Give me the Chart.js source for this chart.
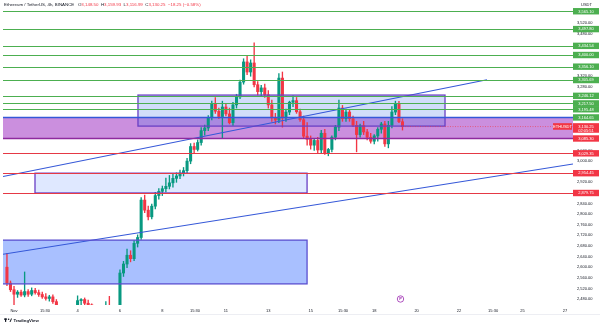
<!DOCTYPE html>
<html>
<head>
<meta charset="utf-8">
<script src="https://cdn.jsdelivr.net/npm/chart.js@4.4.1/dist/chart.umd.min.js"></script>
<style>
  html, body { margin: 0; padding: 0; background: #fff; }
  #wrap { width: 600px; height: 327px; position: relative; }
</style>
</head>
<body>
<div id="wrap"><canvas id="chart"></canvas></div>
<script>
// 4h candles, first one Oct 31 16:00 (x axis counts days from Nov 1 00:00)
const firstCandleDay = -1 / 3;
const candleStepDay = 1 / 6;

const candleOpen = [2600,2540,2515,2498,2506,2495,2508,2498,2512,2504,2497,2488,2482,2488,2470,2438,2432,2442,2426,2438,
  2446,2474,2478,2464,2458,2405,2420,2426,2432,2442,2436,2415,2410,2578,2612,2645,2632,2690,2712,2853,
  2815,2790,2830,2870,2886,2896,2905,2918,2935,2944,2955,2964,3000,3055,3044,3070,3115,3125,3165,3218,
  3188,3168,3204,3178,3145,3212,3242,3298,3374,3336,3370,3288,3262,3276,3250,3212,3163,3155,3313,3163,
  3185,3222,3228,3186,3156,3094,3082,3060,3078,3042,3105,3030,3044,3090,3128,3200,3160,3185,3160,3135,
  3100,3134,3110,3090,3075,3095,3120,3140,3065,3135,3185,3215,3148.50];
const candleHigh = [2652,2548,2528,2512,2514,2582,2516,2522,2520,2514,2506,2500,2494,2496,2478,2452,2448,2450,2445,2452,
  2492,2482,2484,2476,2462,2430,2440,2445,2470,2490,2450,2435,2590,2622,2668,2662,2700,2722,2862,2872,
  2830,2838,2882,2896,2906,2936,2946,2950,2956,2966,2976,3010,3066,3068,3080,3126,3136,3172,3226,3240,
  3200,3226,3216,3200,3222,3252,3306,3386,3396,3382,3446,3300,3286,3290,3266,3230,3180,3330,3336,3196,
  3226,3246,3240,3196,3170,3145,3095,3086,3090,3116,3120,3048,3095,3135,3230,3210,3196,3195,3170,3150,
  3140,3150,3120,3105,3100,3126,3146,3150,3150,3206,3226,3225,3159.93];
const candleLow = [2530,2508,2455,2486,2490,2488,2490,2492,2498,2490,2482,2476,2472,2463,2428,2425,2415,2420,2400,2430,
  2440,2458,2456,2440,2395,2380,2400,2410,2420,2425,2405,2395,2400,2565,2598,2620,2625,2676,2705,2806,
  2778,2782,2820,2856,2870,2884,2895,2902,2920,2934,2944,2955,2990,3032,3038,3060,3098,3115,3155,3180,
  3160,3088,3170,3140,3135,3200,3235,3290,3326,3320,3280,3250,3246,3240,3200,3150,3140,3145,3128,3150,
  3175,3205,3180,3150,3085,3060,3045,3040,3030,3030,3025,3020,3035,3080,3115,3150,3150,3150,3130,3035,
  3090,3100,3080,3068,3065,3075,3105,3055,3050,3125,3175,3145,3116.99];
const candleClose = [2540,2515,2498,2506,2495,2508,2498,2512,2504,2497,2488,2482,2488,2470,2438,2432,2442,2426,2438,2446,
  2474,2478,2464,2458,2405,2420,2426,2432,2442,2436,2415,2410,2578,2612,2645,2632,2690,2712,2853,2815,
  2790,2830,2870,2886,2896,2905,2918,2935,2944,2955,2964,3000,3055,3044,3070,3115,3125,3165,3218,3188,
  3168,3204,3178,3145,3212,3242,3298,3374,3336,3370,3288,3262,3276,3250,3212,3163,3155,3313,3163,3185,
  3222,3228,3186,3156,3094,3082,3060,3078,3042,3105,3030,3044,3090,3128,3200,3160,3185,3160,3135,3100,
  3134,3110,3090,3075,3095,3120,3140,3065,3135,3185,3215,3148.50,3130.25];

// horizontal levels drawn on the chart
const greenLevels = [3565.10, 3497.80, 3434.54, 3400.00, 3356.10, 3305.69, 3246.12, 3217.50, 3195.48, 3164.65];
const redLevels = [3085.30, 3029.35, 2954.45, 2879.75];
const lastPrice = 3130.25;
const countdown = '02:05:51';

// purple zone across the whole chart
const zoneHigh = 3164.65;
const zoneLow = 3085.30;

// rectangles (days / prices)
const boxFrom = [5.85, 0.99, -0.6];
const boxTo = [20.34, 13.83, 13.83];
const boxHigh = [3249, 2954.45, 2702];
const boxLow = [3132, 2879.75, 2537];

// trend lines
const trendFromDay = [-0.52, -0.52];
const trendFromPrice = [2942, 2649];
const trendToDay = [22.32, 26.38];
const trendToPrice = [3307, 2989];

const xTickDays = [0, 1.46, 3, 5, 7, 8.54, 10, 12, 14, 15.53, 17, 19, 21, 22.61, 24, 26];
const xTickLabels = ['Nov', '15:30', '4', '6', '8', '15:30', '11', '13', '15', '15:30', '18', '20', '22', '15:30', '25', '27'];
const yTickValues = [2480, 2520, 2560, 2600, 2640, 2680, 2720, 2760, 2800, 2840, 2920, 3000, 3040, 3280, 3320, 3480, 3520];

const upColor = '#089981';
const downColor = '#f23645';
const FONT = '"Liberation Sans", Arial, sans-serif';

function candleDay(i) {
    return firstCandleDay + i * candleStepDay;
}

function fmt(v) {
    return v.toLocaleString('en-US', {minimumFractionDigits: 2, maximumFractionDigits: 2});
}

function candleColor(ctx) {
    const i = ctx.dataIndex;
    return candleClose[i] >= candleOpen[i] ? upColor : downColor;
}

const wickData = candleOpen.map((o, i) => ({x: candleDay(i), y: [candleLow[i], candleHigh[i]]}));
const bodyData = candleOpen.map((o, i) => ({x: candleDay(i), y: [o, candleClose[i]]}));

const trendSets = trendFromDay.map((d, i) => ({
    type: 'line',
    data: [{x: d, y: trendFromPrice[i]}, {x: trendToDay[i], y: trendToPrice[i]}],
    borderColor: '#3558d8',
    borderWidth: 1.1,
    pointRadius: 0,
    order: 1
}));

function priceTag(ctx, yPix, text, bg) {
    ctx.fillStyle = bg;
    ctx.fillRect(573, yPix - 3.2, 26, 6.4);
    ctx.fillStyle = '#fff';
    ctx.textAlign = 'center';
    ctx.textBaseline = 'middle';
    ctx.fillText(text, 586, yPix + 0.2);
}

// no extra room around the scales, the chart area must fill the canvas
function noPadding(s) {
    s.paddingTop = 0;
    s.paddingBottom = 0;
    s.paddingLeft = 0;
    s.paddingRight = 0;
}

const drawings = {
    id: 'drawings',
    beforeDatasetsDraw(chart) {
        const {ctx, chartArea: a, scales: {x, y}} = chart;
        ctx.save();
        ctx.beginPath();
        ctx.rect(a.left, a.top, a.right - a.left, a.bottom - a.top);
        ctx.clip();

        // purple zone
        const zt = y.getPixelForValue(zoneHigh), zb = y.getPixelForValue(zoneLow);
        ctx.fillStyle = 'rgb(203,143,222)';
        ctx.fillRect(a.left, zt, a.right - a.left, zb - zt);

        const fills = ['rgba(70,120,230,0.25)', 'rgba(41,98,255,0.15)', 'rgba(41,98,255,0.40)'];
        boxFrom.forEach((d, i) => {
            const x0 = x.getPixelForValue(d), x1 = x.getPixelForValue(boxTo[i]);
            const y0 = y.getPixelForValue(boxHigh[i]), y1 = y.getPixelForValue(boxLow[i]);
            ctx.fillStyle = fills[i];
            ctx.fillRect(x0, y0, x1 - x0, y1 - y0);
        });
        ctx.restore();
    },
    afterDatasetsDraw(chart) {
        const {ctx, chartArea: a, scales: {x, y}} = chart;
        ctx.save();
        ctx.beginPath();
        ctx.rect(a.left, a.top, a.right - a.left, a.bottom - a.top);
        ctx.clip();

        // box borders
        boxFrom.forEach((d, i) => {
            const x0 = x.getPixelForValue(d), x1 = x.getPixelForValue(boxTo[i]);
            const y0 = y.getPixelForValue(boxHigh[i]), y1 = y.getPixelForValue(boxLow[i]);
            ctx.strokeStyle = i === 2 ? '#5b4fd0' : '#6a3fc4';
            ctx.lineWidth = 1.3;
            ctx.strokeRect(x0, y0, x1 - x0, y1 - y0);
        });

        ctx.lineWidth = 1;
        greenLevels.forEach(p => {
            const py = Math.round(y.getPixelForValue(p)) + 0.5;
            ctx.strokeStyle = '#4caf50';
            ctx.beginPath(); ctx.moveTo(a.left, py); ctx.lineTo(a.right, py); ctx.stroke();
        });
        redLevels.forEach(p => {
            const py = Math.round(y.getPixelForValue(p)) + 0.5;
            ctx.strokeStyle = '#e53945';
            ctx.beginPath(); ctx.moveTo(a.left, py); ctx.lineTo(a.right, py); ctx.stroke();
        });

        // zone edges
        const zt = y.getPixelForValue(zoneHigh), zb = y.getPixelForValue(zoneLow);
        ctx.lineWidth = 1.4;
        ctx.strokeStyle = '#3558d8';
        ctx.beginPath(); ctx.moveTo(a.left, zt); ctx.lineTo(a.right, zt); ctx.stroke();
        ctx.strokeStyle = '#8e2a9e';
        ctx.beginPath(); ctx.moveTo(a.left, zb); ctx.lineTo(a.right, zb); ctx.stroke();

        // last price line
        const lp = y.getPixelForValue(lastPrice);
        ctx.strokeStyle = downColor;
        ctx.lineWidth = 0.6;
        ctx.setLineDash([1, 1.5]);
        ctx.beginPath(); ctx.moveTo(x.getPixelForValue(candleDay(candleOpen.length - 1)), lp); ctx.lineTo(a.right, lp); ctx.stroke();
        ctx.setLineDash([]);

        // event marker
        const mx = x.getPixelForValue(candleDay(candleOpen.length - 1)) - 2;
        ctx.fillStyle = '#fff';
        ctx.strokeStyle = '#9c27b0';
        ctx.lineWidth = 0.8;
        ctx.beginPath(); ctx.arc(mx, 299, 3.2, 0, Math.PI * 2); ctx.fill(); ctx.stroke();
        ctx.fillStyle = '#9c27b0';
        ctx.font = 'bold 4px ' + FONT;
        ctx.textAlign = 'center';
        ctx.textBaseline = 'middle';
        ctx.fillText('P', mx, 299.3);
        ctx.restore();
    },
    afterDraw(chart) {
        const {ctx, scales: {y}} = chart;
        ctx.save();
        ctx.font = '4px ' + FONT;
        greenLevels.forEach(p => priceTag(ctx, y.getPixelForValue(p), fmt(p), '#4caf50'));
        redLevels.forEach(p => priceTag(ctx, y.getPixelForValue(p), fmt(p), '#f23645'));

        // current price tag with countdown
        const lp = y.getPixelForValue(lastPrice);
        ctx.fillStyle = downColor;
        ctx.fillRect(573, lp - 3.4, 26, 9.6);
        ctx.fillRect(553, lp - 3.4, 19, 6.6);
        ctx.fillStyle = '#fff';
        ctx.textAlign = 'center';
        ctx.textBaseline = 'middle';
        ctx.fillText(fmt(lastPrice), 586, lp - 0.1);
        ctx.fillText(countdown, 586, lp + 4.1);
        ctx.fillText('ETHUSDT', 562.5, lp - 0.1);

        // header
        ctx.textAlign = 'left';
        ctx.font = '4.4px ' + FONT;
        let tx = 4;
        const parts = [
            ['Ethereum / TetherUS, 4h, BINANCE   ', '#131722'],
            ['O', '#131722'], ['3,148.50  ', downColor],
            ['H', '#131722'], ['3,159.93  ', downColor],
            ['L', '#131722'], ['3,116.99  ', downColor],
            ['C', '#131722'], ['3,130.25  −18.25 (−0.58%)', downColor]
        ];
        parts.forEach(([t, c]) => {
            ctx.fillStyle = c;
            ctx.fillText(t, tx, 5);
            tx += ctx.measureText(t).width;
        });
        ctx.fillStyle = '#131722';
        ctx.font = '4px ' + FONT;
        ctx.fillText('USDT', 581, 5);

        // bottom separator and logo
        ctx.strokeStyle = '#e0e3eb';
        ctx.lineWidth = 0.6;
        ctx.beginPath(); ctx.moveTo(0, 314.5); ctx.lineTo(600, 314.5); ctx.stroke();
        ctx.fillStyle = '#131722';
        ctx.fillRect(4, 318.5, 3, 1.2);
        ctx.fillRect(5, 318.5, 1.2, 3.4);
        ctx.beginPath(); ctx.arc(8.6, 319.3, 0.8, 0, Math.PI * 2); ctx.fill();
        ctx.beginPath(); ctx.moveTo(9.5, 321.9); ctx.lineTo(11, 318.5); ctx.lineTo(12, 318.5); ctx.lineTo(10.5, 321.9); ctx.fill();
        ctx.font = 'bold 4.3px ' + FONT;
        ctx.fillText('TradingView', 13.5, 320.5);
        ctx.restore();
    }
};

new Chart(document.getElementById('chart'), {
    type: 'bar',
    data: {
        datasets: [
            {data: wickData, backgroundColor: candleColor, barThickness: 0.7, grouped: false, order: 3},
            {data: bodyData, backgroundColor: candleColor, barThickness: 2.4, minBarLength: 0.8, grouped: false, order: 2},
            ...trendSets
        ]
    },
    options: {
        responsive: true,
        maintainAspectRatio: false,
        animation: false,
        layout: {padding: {left: 3, top: 0, right: 0, bottom: 0}},
        plugins: {legend: {display: false}, tooltip: {enabled: false}},
        scales: {
            x: {
                type: 'linear',
                min: -0.52,
                max: 26.38,
                offset: false,
                grid: {display: false, drawTicks: false},
                border: {display: false},
                afterBuildTicks: s => { s.ticks = xTickDays.map(v => ({value: v})); },
                afterFit: s => { s.height = 22; noPadding(s); },
                ticks: {
                    autoSkip: false,
                    maxRotation: 0,
                    padding: 3,
                    color: '#131722',
                    font: {size: 4, family: FONT},
                    callback: (v, i) => xTickLabels[i]
                }
            },
            y: {
                type: 'linear',
                position: 'right',
                min: 2457.4,
                max: 3607.5,
                grid: {display: false, drawTicks: false},
                border: {display: false},
                afterBuildTicks: s => { s.ticks = yTickValues.map(v => ({value: v})); },
                afterFit: s => { s.width = 27; noPadding(s); },
                ticks: {
                    padding: 4,
                    color: '#131722',
                    font: {size: 4, family: FONT},
                    callback: v => fmt(v)
                }
            }
        }
    },
    plugins: [drawings]
});
</script>
</body>
</html>
